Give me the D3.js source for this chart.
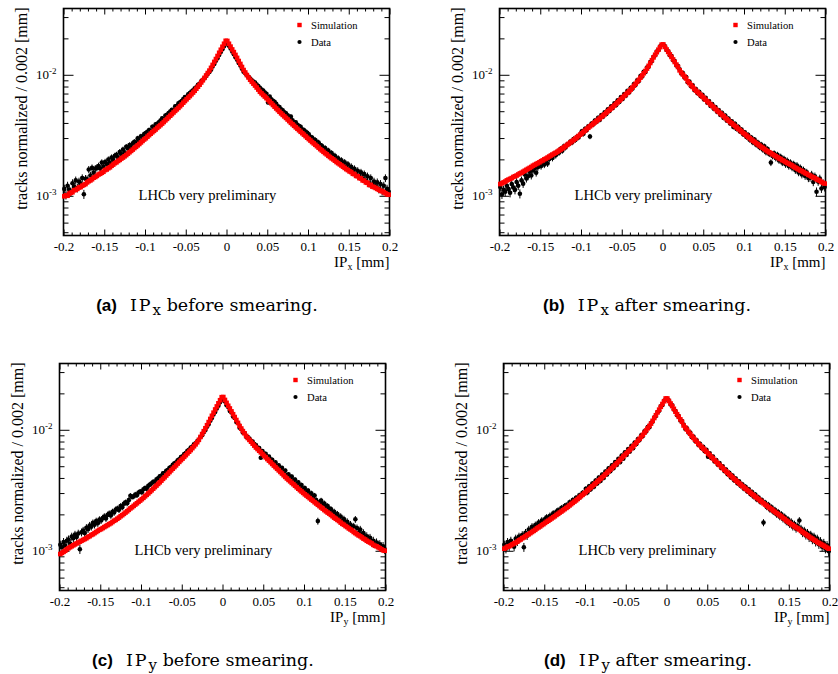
<!DOCTYPE html>
<html>
<head>
<meta charset="utf-8">
<script src="https://cdn.jsdelivr.net/npm/d3@7"></script>
<style>
  body { margin: 0; background: #ffffff; }
  svg { display: block; }
</style>
</head>
<body>
<svg id="fig" width="838" height="674"></svg>
<script>
// Impact-parameter distributions, 0.002 mm bins from -0.2 to 0.2 mm.
// Bin contents are stored in units of 1e-5 (normalized tracks per bin).
const UNIT = 1e-5;
const binLow = -0.2;
const binWidth = 0.002;
const xRange = [-0.2, 0.2];
const yRange = [4.696e-4, 3.531e-2];
const xMajorTicks = [-0.2, -0.15, -0.1, -0.05, 0, 0.05, 0.1, 0.15, 0.2];
const xTickLabels = ["-0.2", "-0.15", "-0.1", "-0.05", "0", "0.05", "0.1", "0.15", "0.2"];
const yMajorTicks = [1e-3, 1e-2];
const yTickExponents = ["-3", "-2"];
const legendLabels = ["Simulation", "Data"];
const yTitle = "tracks normalized / 0.002 [mm]";
const watermark = "LHCb very preliminary";
const dataEntries = 130000; // tracks behind each normalized data histogram

// (a) IPx before smearing
const simA = [
  99,101,100,104,106,107,111,112,114,117,
  118,121,123,125,129,132,134,137,141,143,
  146,150,152,155,158,163,165,169,172,177,
  181,186,189,194,198,203,207,212,217,223,
  229,235,241,248,254,261,268,276,284,292,
  299,308,317,326,335,344,353,364,374,384,
  395,407,420,432,446,459,473,488,503,518,
  533,550,568,588,607,627,647,667,690,713,
  738,767,797,828,864,901,943,987,1034,1083,
  1141,1207,1278,1350,1430,1520,1610,1705,1805,1910,
  1905,1805,1710,1620,1540,1460,1380,1300,1230,1160,
  1095,1045,995,950,910,875,845,815,785,755,
  724,702,681,661,641,620,601,582,563,545,
  527,511,495,480,466,453,440,427,414,401,
  390,379,368,358,348,338,329,320,311,302,
  294,286,278,271,264,257,250,243,237,231,
  225,220,214,209,204,200,195,190,186,182,
  178,174,170,166,163,159,157,152,151,146,
  145,140,139,134,133,129,128,123,123,119,
  118,116,114,112,110,109,107,105,103,102
];
const dataA = [
  114,102,121,112,108,127,119,134,116,131,
  126,140,103,138,137,165,147,170,155,168,
  170,176,168,188,174,190,183,199,186,207,
  197,214,218,207,230,219,241,229,254,246,
  262,253,271,279,276,298,285,310,306,323,
  330,338,349,341,372,366,389,394,405,418,
  436,429,461,468,482,497,514,509,548,552,
  580,592,606,631,655,648,690,706,728,745,
  775,788,826,841,884,910,938,979,1021,1057,
  1102,1170,1230,1305,1371,1457,1541,1625,1718,1808,
  1821,1734,1651,1559,1481,1399,1331,1254,1191,1124,
  1062,1031,990,961,931,902,880,862,829,809,
  781,756,740,714,697,590,660,628,611,598,
  575,548,541,519,508,490,481,462,449,451,
  421,402,404,386,377,371,352,350,339,331,
  322,306,303,292,289,277,276,262,259,247,
  248,236,236,223,225,213,214,203,204,193,
  196,183,189,174,182,166,174,160,167,152,
  161,146,156,139,151,133,145,127,140,124,
  131,120,129,114,125,110,121,140,114,108
];

// (b) IPx after smearing
const simB = [
  125,127,129,131,134,136,138,140,143,145,
  147,150,153,155,158,161,164,167,170,173,
  177,180,183,186,189,193,196,200,203,207,
  211,215,219,223,227,231,236,241,246,251,
  257,263,269,276,282,289,296,304,312,320,
  328,337,346,356,365,375,384,394,404,414,
  425,436,448,460,472,486,500,514,528,543,
  558,575,592,610,629,648,668,688,709,730,
  755,783,812,843,874,909,947,988,1030,1075,
  1125,1186,1251,1320,1392,1464,1537,1613,1692,1776,
  1783,1700,1620,1545,1475,1405,1340,1275,1215,1160,
  1088,1045,1005,968,932,884,853,822,793,765,
  740,720,700,680,660,641,622,604,586,568,
  553,537,522,507,493,480,467,454,441,429,
  418,407,397,387,377,367,358,349,340,331,
  323,315,307,299,292,285,279,272,266,260,
  254,249,244,238,233,229,225,220,216,212,
  208,204,201,197,194,190,187,184,181,178,
  174,171,168,165,162,160,157,154,152,149,
  147,144,142,140,137,135,133,130,128,126
];
const dataB = [
  118,103,112,108,121,114,106,125,117,112,
  130,121,104,134,126,150,139,145,158,147,
  162,168,155,172,180,176,189,181,196,185,
  201,214,205,221,216,231,227,244,236,256,
  251,265,268,281,276,295,289,307,303,320,
  341,325,357,349,376,309,396,388,418,409,
  442,423,465,451,489,474,519,503,549,532,
  580,561,616,597,655,632,694,672,738,713,
  782,768,840,826,901,890,975,967,1058,1053,
  1148,1165,1272,1298,1410,1448,1555,1598,1710,1762,
  1768,1718,1601,1566,1452,1431,1318,1298,1196,1182,
  1110,1025,1032,948,958,866,880,804,818,748,
  762,703,724,664,684,626,645,588,608,552,
  572,523,541,494,512,466,486,440,460,418,
  434,396,413,371,394,357,372,340,352,322,
  334,306,319,290,303,276,291,264,276,252,
  265,241,256,229,243,222,188,213,224,205,
  218,196,210,188,202,182,195,176,188,171,
  183,163,178,156,170,150,163,146,156,140,
  141,150,130,145,108,131,139,115,127,118
];

// (c) IPy before smearing
const simC = [
  94,96,98,100,103,105,107,109,111,113,
  115,117,119,121,123,125,127,130,132,135,
  137,140,143,146,149,151,154,157,160,163,
  166,169,173,177,180,184,188,193,197,202,
  207,212,218,224,229,235,241,247,254,260,
  267,274,282,290,298,307,316,326,336,346,
  357,368,380,393,405,419,433,447,462,477,
  492,508,526,543,561,578,597,617,638,659,
  680,705,731,758,789,826,873,922,974,1030,
  1091,1158,1229,1305,1385,1472,1560,1655,1755,1860,
  1866,1765,1670,1580,1500,1420,1345,1275,1205,1140,
  1075,1025,975,935,890,855,825,797,768,740,
  714,693,671,651,631,610,592,573,556,539,
  522,506,491,476,462,448,435,421,408,396,
  385,375,364,355,345,335,326,317,309,301,
  293,286,279,272,265,259,252,246,240,234,
  228,223,217,212,207,203,198,193,188,184,
  180,176,171,167,164,160,157,153,150,147,
  143,140,137,134,132,129,126,124,121,119,
  117,115,112,110,109,107,105,103,101,100
];
const dataC = [
  112,107,118,110,121,124,115,131,127,136,
  130,139,103,142,147,140,155,151,162,158,
  170,164,176,169,181,178,186,192,185,198,
  203,196,210,207,219,223,218,234,229,245,
  251,247,262,285,279,281,292,288,303,309,
  305,322,330,326,344,352,361,372,369,389,
  398,412,417,436,438,459,465,486,492,514,
  528,537,559,571,594,604,631,641,672,684,
  712,724,759,774,805,826,872,901,954,996,
  1060,1113,1190,1250,1336,1404,1500,1580,1686,1775,
  1780,1712,1598,1540,1432,1391,1290,1252,1160,1133,
  1040,1012,950,940,878,870,845,812,801,762,
  748,712,706,588,668,636,632,598,601,569,
  566,528,538,502,509,474,484,448,460,422,
  428,398,410,378,388,357,368,340,349,322,
  330,306,314,291,299,276,286,262,176,251,
  260,244,246,232,234,221,221,210,210,199,
  201,188,192,178,183,170,174,163,165,155,
  159,182,154,140,150,136,140,130,132,126,
  128,119,121,115,117,112,113,108,109,103
];

// (d) IPy after smearing
const simD = [
  104,106,108,109,111,113,115,117,119,122,
  124,127,129,132,135,137,140,143,146,149,
  153,156,159,163,166,170,174,177,181,185,
  189,193,198,202,207,211,216,221,226,231,
  237,243,249,255,261,268,275,283,290,298,
  306,315,324,333,342,352,362,372,382,393,
  404,416,429,442,455,469,483,498,513,529,
  546,564,583,602,621,641,662,683,705,729,
  755,783,812,843,874,909,947,988,1030,1075,
  1125,1186,1251,1320,1392,1467,1548,1634,1721,1815,
  1815,1730,1650,1570,1490,1410,1345,1280,1220,1165,
  1085,1045,1005,965,927,889,858,828,798,770,
  744,722,700,680,659,638,618,598,580,561,
  544,528,512,497,482,468,454,441,428,416,
  404,393,382,372,362,352,343,334,326,318,
  310,302,294,287,280,273,267,260,254,247,
  241,236,230,225,220,215,210,205,201,196,
  192,187,183,178,174,170,166,163,159,156,
  153,150,146,143,140,137,134,131,128,126,
  123,121,118,116,114,112,110,108,106,104
];
const dataD = [
  112,104,118,109,121,115,108,126,119,131,
  128,135,107,141,133,150,144,158,152,163,
  160,171,166,178,172,183,189,180,195,192,
  204,199,211,216,209,226,221,234,238,231,
  251,246,262,258,274,270,287,283,301,297,
  325,303,341,322,360,338,380,360,403,378,
  426,400,452,428,480,455,508,482,540,512,
  575,540,612,577,652,620,694,660,738,705,
  785,762,838,826,902,890,970,968,1052,1050,
  1135,1170,1262,1300,1400,1440,1560,1600,1735,1780,
  1790,1742,1622,1590,1470,1428,1318,1300,1195,1182,
  1105,1022,1030,948,950,870,880,810,818,752,
  766,706,722,664,682,600,640,584,600,548,
  562,514,530,484,498,456,470,430,442,404,
  418,382,396,362,375,344,355,326,338,310,
  322,294,306,280,291,266,276,254,262,171,
  250,230,240,219,229,210,218,200,209,191,
  200,183,191,174,182,166,174,158,166,152,
  160,178,153,140,147,134,141,128,136,123,
  131,118,126,113,120,108,116,104,111,99
];

const panels = [
  { tag: "(a)", coord: "x", caption: "before smearing.", sim: simA, data: dataA, left: 63.5,  top: 8.5,   capX: 207 },
  { tag: "(b)", coord: "x", caption: "after smearing.",  sim: simB, data: dataB, left: 499.5, top: 8.5,   capX: 647 },
  { tag: "(c)", coord: "y", caption: "before smearing.", sim: simC, data: dataC, left: 59.5,  top: 363.5, capX: 203 },
  { tag: "(d)", coord: "y", caption: "after smearing.",  sim: simD, data: dataD, left: 503.5, top: 363.5, capX: 648 }
];

const W = 326, H = 227;
const SERIF = "'Liberation Serif', 'Times New Roman', serif";
const svg = d3.select("#fig");

const x = d3.scaleLinear().domain(xRange).range([0, W]);
const y = d3.scaleLog().domain(yRange).range([H, 0]);

const xMinorTicks = d3.range(-20, 21).map(i => i / 100).filter(v => Math.round(v * 100) % 5 !== 0);
const yMinorTicks = [];
[1e-4, 1e-3, 1e-2].forEach(dec => {
  for (let m = 2; m <= 9; m++) {
    const v = m * dec;
    if (v >= yRange[0] && v <= yRange[1]) yMinorTicks.push(v);
  }
});

function tickAxis(g, axis) {
  g.call(axis);
  g.select(".domain").remove();
  g.selectAll(".tick line").attr("stroke", "#000").attr("stroke-width", 1);
}

panels.forEach(p => {
  const g = svg.append("g").attr("transform", `translate(${p.left},${p.top})`);
  const bins = p.sim.map((v, i) => binLow + (i + 0.5) * binWidth);

  // ticks on all four sides, pointing into the frame
  tickAxis(g.append("g").attr("transform", `translate(0,${H})`),
    d3.axisBottom(x).tickValues(xMinorTicks).tickSize(-3).tickFormat(""));
  const xb = g.append("g").attr("transform", `translate(0,${H})`);
  tickAxis(xb, d3.axisBottom(x).tickValues(xMajorTicks).tickSize(-6).tickPadding(6)
    .tickFormat((d, i) => xTickLabels[i]));
  xb.selectAll(".tick text").attr("font-family", SERIF).attr("font-size", 13).attr("fill", "#000");

  tickAxis(g.append("g"), d3.axisTop(x).tickValues(xMinorTicks).tickSize(-3).tickFormat(""));
  tickAxis(g.append("g"), d3.axisTop(x).tickValues(xMajorTicks).tickSize(-6).tickFormat(""));

  tickAxis(g.append("g"), d3.axisLeft(y).tickValues(yMinorTicks).tickSize(-5).tickFormat(""));
  tickAxis(g.append("g"), d3.axisLeft(y).tickValues(yMajorTicks).tickSize(-10).tickFormat(""));
  tickAxis(g.append("g").attr("transform", `translate(${W},0)`),
    d3.axisRight(y).tickValues(yMinorTicks).tickSize(-5).tickFormat(""));
  tickAxis(g.append("g").attr("transform", `translate(${W},0)`),
    d3.axisRight(y).tickValues(yMajorTicks).tickSize(-10).tickFormat(""));

  // y tick labels as powers of ten
  yMajorTicks.forEach((v, i) => {
    const t = g.append("text")
      .attr("x", -7).attr("y", y(v) + 4.5)
      .attr("text-anchor", "end")
      .attr("font-family", SERIF).attr("font-size", 13);
    t.append("tspan").text("10");
    t.append("tspan").attr("dy", -5).attr("font-size", 9).text(yTickExponents[i]);
  });

  // frame
  g.append("rect").attr("x", 0).attr("y", 0).attr("width", W).attr("height", H)
    .attr("fill", "none").attr("stroke", "#000").attr("stroke-width", 1.6);

  // axis titles
  const xt = g.append("text")
    .attr("x", W).attr("y", H + 31)
    .attr("text-anchor", "end")
    .attr("font-family", SERIF).attr("font-size", 15);
  xt.append("tspan").text("IP");
  xt.append("tspan").attr("dy", 3).attr("font-size", 10).text(p.coord);
  xt.append("tspan").attr("dy", -3).text(" [mm]");

  g.append("text")
    .attr("transform", `translate(-36.5,-1) rotate(-90)`)
    .attr("text-anchor", "end")
    .attr("font-family", SERIF).attr("font-size", 16)
    .text(yTitle);

  // data: points with statistical error bars
  const dataPts = p.data.map((v, i) => {
    const val = v * UNIT;
    const err = Math.sqrt(val / dataEntries);
    return { x: bins[i], v: val, lo: Math.max(val - err, yRange[0]), hi: val + err };
  });
  g.append("g").selectAll("line").data(dataPts).join("line")
    .attr("x1", d => x(d.x)).attr("x2", d => x(d.x))
    .attr("y1", d => y(d.lo)).attr("y2", d => y(d.hi))
    .attr("stroke", "#000").attr("stroke-width", 1);
  g.append("g").selectAll("circle").data(dataPts).join("circle")
    .attr("cx", d => x(d.x)).attr("cy", d => y(d.v)).attr("r", 2.3)
    .attr("fill", "#000");

  // simulation: red squares
  const s = 4.6;
  g.append("g").selectAll("rect").data(p.sim.map((v, i) => ({ x: bins[i], v: v * UNIT }))).join("rect")
    .attr("x", d => x(d.x) - s / 2).attr("y", d => y(d.v) - s / 2)
    .attr("width", s).attr("height", s)
    .attr("fill", "#ff0000");

  // legend
  g.append("rect").attr("x", 236 - 2.2).attr("y", 16.5 - 2.2).attr("width", 4.4).attr("height", 4.4).attr("fill", "#ff0000");
  g.append("circle").attr("cx", 236).attr("cy", 33.5).attr("r", 2.1).attr("fill", "#000");
  legendLabels.forEach((lab, i) => {
    g.append("text").attr("x", 247.5).attr("y", 20.2 + i * 17)
      .attr("font-family", SERIF).attr("font-size", 10.6).text(lab);
  });

  // label inside the frame
  g.append("text").attr("x", 75).attr("y", 191)
    .attr("font-family", SERIF).attr("font-size", 14.6).text(watermark);

  // sub-figure caption
  const cap = svg.append("text")
    .attr("x", p.capX).attr("y", p.top + 302)
    .attr("text-anchor", "middle")
    .attr("font-family", "'DejaVu Serif', serif").attr("font-size", 17.5);
  cap.append("tspan").attr("font-family", "'Liberation Sans', Arial, sans-serif")
    .attr("font-weight", "bold").attr("font-size", 17).text(p.tag);
  cap.append("tspan").attr("dx", 13).attr("letter-spacing", 2).text("IP");
  cap.append("tspan").attr("dy", 4).attr("font-size", 15).text(p.coord);
  cap.append("tspan").attr("dy", -4).text(" " + p.caption);
});
</script>
</body>
</html>
